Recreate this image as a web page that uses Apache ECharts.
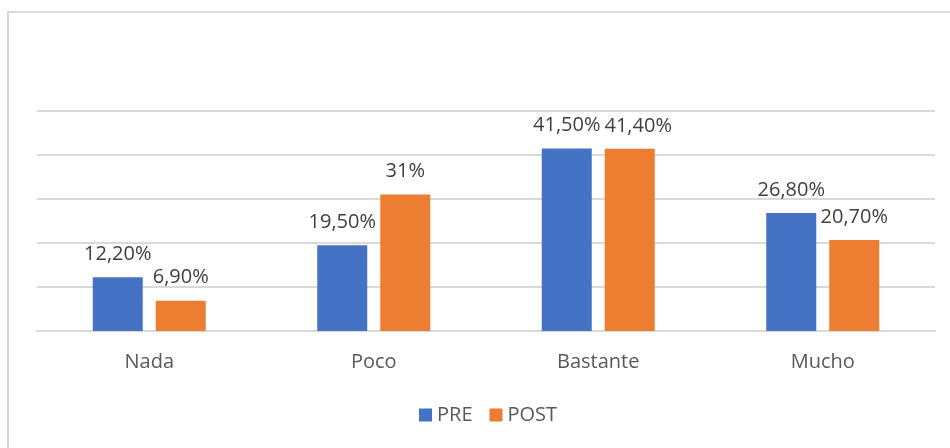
<!DOCTYPE html>
<html>
<head>
<meta charset="utf-8">
<script src="https://cdn.jsdelivr.net/npm/echarts@6/dist/echarts.min.js"></script>
<style>
  html, body { margin: 0; padding: 0; background: #fff; }
  #frame {
    position: absolute; left: 7px; top: 11px; width: 960px; height: 460px;
    border: 2px solid #d9d9d9; box-sizing: border-box;
  }
  #chart { position: absolute; left: 0; top: 0; width: 950px; height: 448px; }
</style>
</head>
<body>
<div id="frame"></div>
<div id="chart"></div>
<script>
const categories = ["Nada", "Poco", "Bastante", "Mucho"];
const preValues = [12.2, 19.5, 41.5, 26.8];
const postValues = [6.9, 31, 41.4, 20.7];

const fmt = (v) =>
  Number.isInteger(v) ? v + "%" : v.toFixed(2).replace(".", ",") + "%";

const chart = echarts.init(document.getElementById("chart"));
const font = "'Open Sans', 'Liberation Sans', sans-serif";

const barLabel = {
  show: true,
  position: "top",
  distance: 13,
  color: "#404040",
  fontSize: 20,
  fontFamily: font,
  formatter: (p) => fmt(p.value),
};

// like Excel: push a POST label right when it collides with the PRE one
const preRects = {};
const rememberPre = (params) => {
  preRects[params.dataIndex] = params.labelRect;
  return {};
};
const avoidPre = (params) => {
  const a = preRects[params.dataIndex];
  const b = params.labelRect;
  if (!a) return {};
  const vOverlap = a.y < b.y + b.height && b.y < a.y + a.height;
  const need = a.x + a.width + 4 - b.x;
  return vOverlap && need > 0 ? { dx: need } : {};
};

chart.setOption({
  animation: false,
  backgroundColor: "transparent",
  textStyle: { fontFamily: font },
  grid: { left: 37, right: 15, top: 111, bottom: 117 },
  legend: {
    top: 400,
    left: 414,
    itemWidth: 13,
    itemHeight: 13,
    itemGap: 17,
    icon: "rect",
    textStyle: { color: "#595959", fontSize: 20, fontFamily: font },
    data: ["PRE", "POST"],
  },
  xAxis: {
    type: "category",
    data: categories,
    axisTick: { show: false },
    axisLine: { lineStyle: { color: "#d9d9d9", width: 2 } },
    axisLabel: { color: "#595959", fontSize: 20, margin: 21, fontFamily: font },
  },
  yAxis: {
    type: "value",
    min: 0,
    max: 50,
    interval: 10,
    axisLabel: { show: false },
    axisLine: { show: false },
    axisTick: { show: false },
    splitLine: { lineStyle: { color: "#d9d9d9", width: 2 } },
  },
  series: [
    {
      name: "PRE",
      type: "bar",
      data: preValues,
      barWidth: 50,
      barGap: "26%",
      itemStyle: { color: "#4472c4" },
      label: barLabel,
      labelLayout: rememberPre,
    },
    {
      name: "POST",
      type: "bar",
      data: postValues,
      barWidth: 50,
      itemStyle: { color: "#ed7d31" },
      label: barLabel,
      labelLayout: avoidPre,
    },
  ],
});
</script>
</body>
</html>
